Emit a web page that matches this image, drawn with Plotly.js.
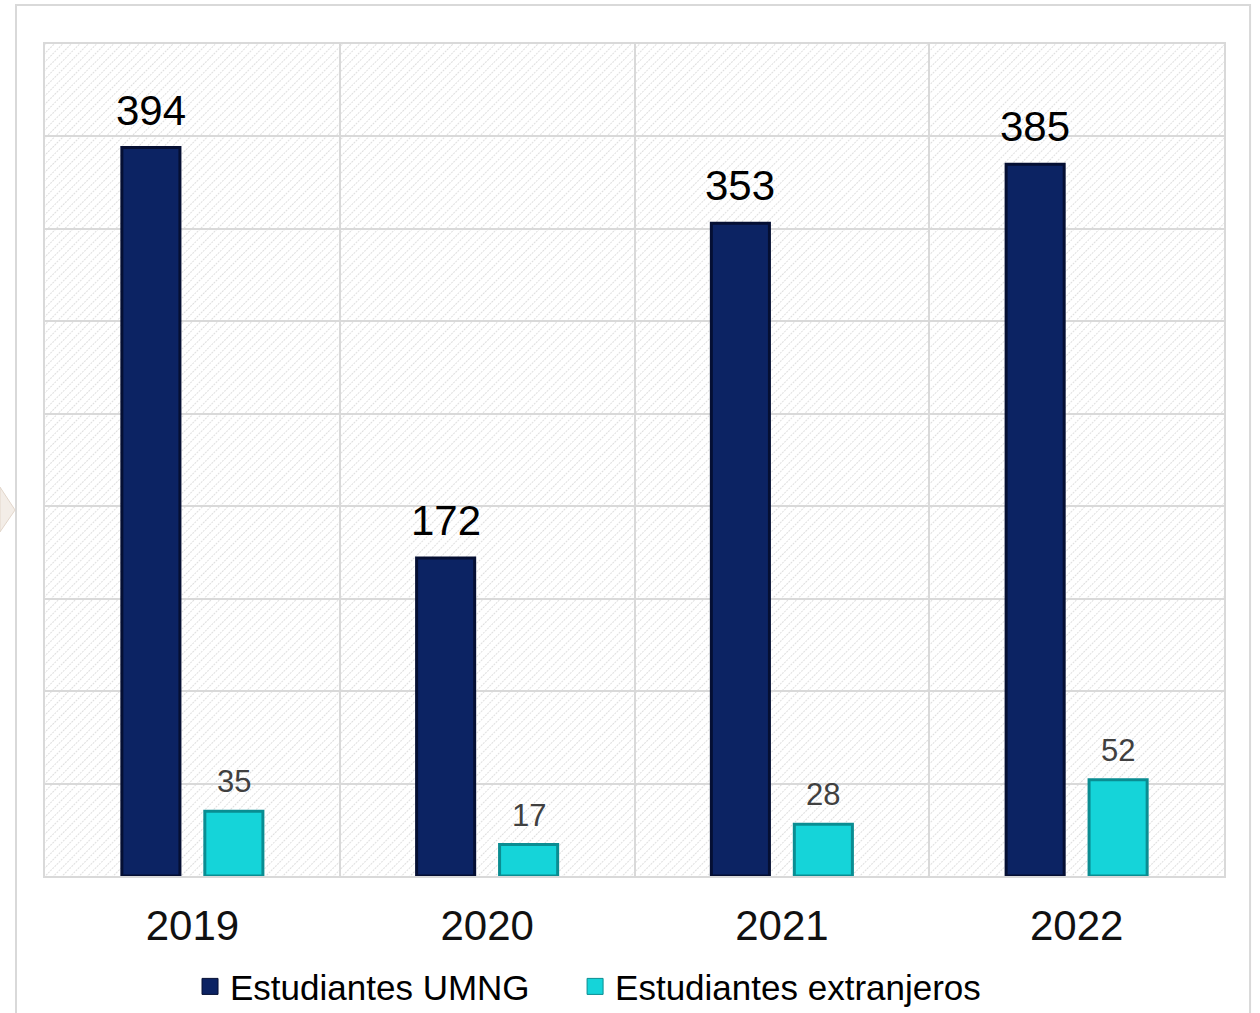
<!DOCTYPE html>
<html>
<head>
<meta charset="utf-8">
<script src="https://cdn.plot.ly/plotly-3.0.1.min.js"></script>
<style>
  html, body { margin: 0; padding: 0; background: #ffffff; }
  #chart { width: 1260px; height: 1013px; }
</style>
</head>
<body>
<div id="chart"></div>
<script>
// ---- data ----
const years = ['2019', '2020', '2021', '2022'];
const umng = [394, 172, 353, 385];
const extranjeros = [35, 17, 28, 52];
const seriesNames = ['Estudiantes UMNG', 'Estudiantes extranjeros'];

const FONT = 'Liberation Sans, Arial, sans-serif';
const GRID = '#d9d9d9';
const DARK = '#0c2363', DARK_LINE = '#050f33';
const CYAN = '#15d4d9', CYAN_LINE = '#0a8d92';

// hatch background pattern
const hatchSvg =
  "<svg xmlns='http://www.w3.org/2000/svg' width='1179' height='832'>" +
  "<defs><pattern id='p' width='6' height='6' patternUnits='userSpaceOnUse' patternTransform='rotate(45)'>" +
  "<line x1='0' y1='0' x2='0' y2='6' stroke='#c9c9c9' stroke-width='1.2' stroke-dasharray='2,1'/></pattern></defs>" +
  "<rect width='1179' height='832' fill='#ffffff'/>" +
  "<rect width='1179' height='832' fill='url(#p)'/></svg>";
const hatchUri = 'data:image/svg+xml;utf8,' + encodeURIComponent(hatchSvg);

const traces = [
  {
    type: 'bar', name: seriesNames[0], x: years, y: umng, showlegend: false,
    marker: { color: DARK, line: { color: DARK_LINE, width: 3 } }
  },
  {
    type: 'bar', name: seriesNames[1], x: years, y: extranjeros, showlegend: false,
    marker: { color: CYAN, line: { color: CYAN_LINE, width: 3 } }
  },
  // legend entries (square symbols)
  {
    type: 'scatter', mode: 'markers', name: seriesNames[0], x: [null], y: [null],
    legend: 'legend',
    marker: { symbol: 'square', size: 18, color: DARK, line: { color: DARK_LINE, width: 1 } }
  },
  {
    type: 'scatter', mode: 'markers', name: seriesNames[1], x: [null], y: [null],
    legend: 'legend2',
    marker: { symbol: 'square', size: 18, color: CYAN, line: { color: CYAN_LINE, width: 1 } }
  }
];

// value labels built from the data arrays
const annotations = [];
years.forEach((yr, i) => {
  annotations.push({
    x: i, y: umng[i], xref: 'x', yref: 'y', xshift: -41.5, yshift: 12,
    yanchor: 'bottom', showarrow: false, text: String(umng[i]),
    font: { family: FONT, size: 42, color: '#000000' }
  });
  annotations.push({
    x: i, y: extranjeros[i], xref: 'x', yref: 'y', xshift: 41.5, yshift: 10,
    yanchor: 'bottom', showarrow: false, text: String(extranjeros[i]),
    font: { family: FONT, size: 31, color: '#404040' }
  });
});

const legendBase = {
  orientation: 'h', xanchor: 'left', y: -0.133, yanchor: 'middle',
  font: { family: FONT, size: 35, color: '#000000' },
  bgcolor: 'rgba(0,0,0,0)'
};

const layout = {
  width: 1260, height: 1013,
  margin: { l: 45, r: 36, t: 44, b: 137, autoexpand: false },
  paper_bgcolor: '#ffffff',
  plot_bgcolor: 'rgba(0,0,0,0)',
  barmode: 'group',
  bargap: 0.437,
  bargroupgap: 0.30,
  showlegend: true,
  legend: Object.assign({}, legendBase, { x: 0.123 }),
  legend2: Object.assign({}, legendBase, { x: 0.4496 }),
  xaxis: {
    type: 'category', range: [-0.5, 3.5],
    tickson: 'boundaries', showgrid: true, gridcolor: GRID, gridwidth: 2,
    ticks: '', ticklabelstandoff: 12,
    tickfont: { family: FONT, size: 42, color: '#111111' },
    showline: true, linecolor: GRID, linewidth: 2, mirror: true,
    zeroline: false, fixedrange: true
  },
  yaxis: {
    range: [0, 450], dtick: 50, showticklabels: false,
    showgrid: true, gridcolor: GRID, gridwidth: 2,
    showline: true, linecolor: GRID, linewidth: 2, mirror: true,
    zeroline: false, fixedrange: true
  },
  images: [{
    source: hatchUri, xref: 'x domain', yref: 'y domain',
    x: 0, y: 1, sizex: 1, sizey: 1, xanchor: 'left', yanchor: 'top',
    sizing: 'stretch', layer: 'below'
  }],
  shapes: [
    { type: 'rect', xref: 'paper', yref: 'paper',
      x0: -0.0246, x1: 1.0221, y0: -0.25, y1: 1.0469,
      line: { color: '#d9d9d9', width: 2 }, fillcolor: 'rgba(0,0,0,0)', layer: 'below' },
    { type: 'path', xref: 'paper', yref: 'paper',
      path: 'M -0.0382,0.4675 L -0.0254,0.4399 L -0.0382,0.4135 Z',
      fillcolor: '#f3ede7', line: { color: '#e2d6cb', width: 1 }, layer: 'below' }
  ],
  annotations: annotations,
  font: { family: FONT }
};

Plotly.newPlot('chart', traces, layout, { displayModeBar: false, staticPlot: true });
</script>
</body>
</html>
